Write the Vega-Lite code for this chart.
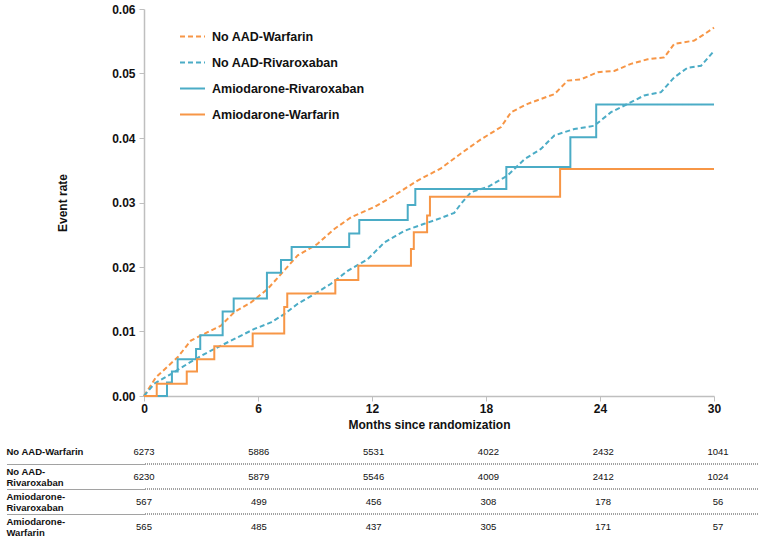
{
  "$schema": "https://vega.github.io/schema/vega-lite/v6.json",
  "background": "white",
  "padding": {"left": 5, "top": 3, "right": 5, "bottom": 2},
  "spacing": 4,
  "config": {
    "font": "Liberation Sans",
    "view": {"stroke": null},
    "axis": {"labelFont": "Liberation Sans", "titleFont": "Liberation Sans"}
  },
  "datasets": {
    "km": [
      {"group": "No AAD-Warfarin", "month": 0, "rate": 0},
      {"group": "No AAD-Warfarin", "month": 0.63, "rate": 0.0029},
      {"group": "No AAD-Warfarin", "month": 1.77, "rate": 0.006},
      {"group": "No AAD-Warfarin", "month": 2.47, "rate": 0.0086},
      {"group": "No AAD-Warfarin", "month": 3.35, "rate": 0.0099},
      {"group": "No AAD-Warfarin", "month": 4.05, "rate": 0.0109},
      {"group": "No AAD-Warfarin", "month": 4.75, "rate": 0.013},
      {"group": "No AAD-Warfarin", "month": 5.63, "rate": 0.0145},
      {"group": "No AAD-Warfarin", "month": 6.51, "rate": 0.0166},
      {"group": "No AAD-Warfarin", "month": 7.21, "rate": 0.0189},
      {"group": "No AAD-Warfarin", "month": 8.09, "rate": 0.0218},
      {"group": "No AAD-Warfarin", "month": 9.14, "rate": 0.0236},
      {"group": "No AAD-Warfarin", "month": 10.02, "rate": 0.0259},
      {"group": "No AAD-Warfarin", "month": 10.89, "rate": 0.0277},
      {"group": "No AAD-Warfarin", "month": 12.12, "rate": 0.0293},
      {"group": "No AAD-Warfarin", "month": 13.17, "rate": 0.0311},
      {"group": "No AAD-Warfarin", "month": 14.4, "rate": 0.0334},
      {"group": "No AAD-Warfarin", "month": 15.63, "rate": 0.0353},
      {"group": "No AAD-Warfarin", "month": 16.68, "rate": 0.0376},
      {"group": "No AAD-Warfarin", "month": 17.74, "rate": 0.0398},
      {"group": "No AAD-Warfarin", "month": 18.79, "rate": 0.0417},
      {"group": "No AAD-Warfarin", "month": 19.32, "rate": 0.044},
      {"group": "No AAD-Warfarin", "month": 20.19, "rate": 0.0453},
      {"group": "No AAD-Warfarin", "month": 21.6, "rate": 0.0468},
      {"group": "No AAD-Warfarin", "month": 22.3, "rate": 0.0489},
      {"group": "No AAD-Warfarin", "month": 23.0, "rate": 0.0491},
      {"group": "No AAD-Warfarin", "month": 23.88, "rate": 0.0502},
      {"group": "No AAD-Warfarin", "month": 24.75, "rate": 0.0504},
      {"group": "No AAD-Warfarin", "month": 25.63, "rate": 0.0515},
      {"group": "No AAD-Warfarin", "month": 26.51, "rate": 0.0522},
      {"group": "No AAD-Warfarin", "month": 27.38, "rate": 0.0525},
      {"group": "No AAD-Warfarin", "month": 27.91, "rate": 0.0546},
      {"group": "No AAD-Warfarin", "month": 28.96, "rate": 0.0551},
      {"group": "No AAD-Warfarin", "month": 29.49, "rate": 0.0561},
      {"group": "No AAD-Warfarin", "month": 30, "rate": 0.0571},

      {"group": "No AAD-Rivaroxaban", "month": 0, "rate": 0},
      {"group": "No AAD-Rivaroxaban", "month": 0.54, "rate": 0.0019},
      {"group": "No AAD-Rivaroxaban", "month": 1.42, "rate": 0.0034},
      {"group": "No AAD-Rivaroxaban", "month": 2.3, "rate": 0.005},
      {"group": "No AAD-Rivaroxaban", "month": 3.18, "rate": 0.0065},
      {"group": "No AAD-Rivaroxaban", "month": 4.05, "rate": 0.0078},
      {"group": "No AAD-Rivaroxaban", "month": 4.93, "rate": 0.0091},
      {"group": "No AAD-Rivaroxaban", "month": 5.81, "rate": 0.0104},
      {"group": "No AAD-Rivaroxaban", "month": 6.68, "rate": 0.0114},
      {"group": "No AAD-Rivaroxaban", "month": 7.38, "rate": 0.0127},
      {"group": "No AAD-Rivaroxaban", "month": 8.09, "rate": 0.0143},
      {"group": "No AAD-Rivaroxaban", "month": 8.96, "rate": 0.0158},
      {"group": "No AAD-Rivaroxaban", "month": 9.84, "rate": 0.0174},
      {"group": "No AAD-Rivaroxaban", "month": 10.72, "rate": 0.0194},
      {"group": "No AAD-Rivaroxaban", "month": 11.77, "rate": 0.0212},
      {"group": "No AAD-Rivaroxaban", "month": 12.65, "rate": 0.0238},
      {"group": "No AAD-Rivaroxaban", "month": 13.7, "rate": 0.0256},
      {"group": "No AAD-Rivaroxaban", "month": 14.75, "rate": 0.0267},
      {"group": "No AAD-Rivaroxaban", "month": 15.63, "rate": 0.0276},
      {"group": "No AAD-Rivaroxaban", "month": 16.33, "rate": 0.0284},
      {"group": "No AAD-Rivaroxaban", "month": 16.68, "rate": 0.0298},
      {"group": "No AAD-Rivaroxaban", "month": 17.21, "rate": 0.0316},
      {"group": "No AAD-Rivaroxaban", "month": 18.09, "rate": 0.0324},
      {"group": "No AAD-Rivaroxaban", "month": 19.14, "rate": 0.0342},
      {"group": "No AAD-Rivaroxaban", "month": 20.02, "rate": 0.0367},
      {"group": "No AAD-Rivaroxaban", "month": 20.89, "rate": 0.0383},
      {"group": "No AAD-Rivaroxaban", "month": 21.6, "rate": 0.0404},
      {"group": "No AAD-Rivaroxaban", "month": 22.65, "rate": 0.0414},
      {"group": "No AAD-Rivaroxaban", "month": 23.7, "rate": 0.0419},
      {"group": "No AAD-Rivaroxaban", "month": 24.58, "rate": 0.044},
      {"group": "No AAD-Rivaroxaban", "month": 25.46, "rate": 0.0453},
      {"group": "No AAD-Rivaroxaban", "month": 26.33, "rate": 0.0466},
      {"group": "No AAD-Rivaroxaban", "month": 27.21, "rate": 0.0471},
      {"group": "No AAD-Rivaroxaban", "month": 27.91, "rate": 0.0494},
      {"group": "No AAD-Rivaroxaban", "month": 28.61, "rate": 0.0509},
      {"group": "No AAD-Rivaroxaban", "month": 29.32, "rate": 0.0512},
      {"group": "No AAD-Rivaroxaban", "month": 30, "rate": 0.0535},

      {"group": "Amiodarone-Rivaroxaban", "month": 0, "rate": 0},
      {"group": "Amiodarone-Rivaroxaban", "month": 1.21, "rate": 0.0021},
      {"group": "Amiodarone-Rivaroxaban", "month": 1.47, "rate": 0.0038},
      {"group": "Amiodarone-Rivaroxaban", "month": 1.77, "rate": 0.0057},
      {"group": "Amiodarone-Rivaroxaban", "month": 2.74, "rate": 0.0073},
      {"group": "Amiodarone-Rivaroxaban", "month": 2.96, "rate": 0.0094},
      {"group": "Amiodarone-Rivaroxaban", "month": 4.14, "rate": 0.0131},
      {"group": "Amiodarone-Rivaroxaban", "month": 4.72, "rate": 0.0151},
      {"group": "Amiodarone-Rivaroxaban", "month": 6.47, "rate": 0.0191},
      {"group": "Amiodarone-Rivaroxaban", "month": 7.21, "rate": 0.0211},
      {"group": "Amiodarone-Rivaroxaban", "month": 7.77, "rate": 0.0231},
      {"group": "Amiodarone-Rivaroxaban", "month": 10.8, "rate": 0.0252},
      {"group": "Amiodarone-Rivaroxaban", "month": 11.33, "rate": 0.0273},
      {"group": "Amiodarone-Rivaroxaban", "month": 13.88, "rate": 0.0296},
      {"group": "Amiodarone-Rivaroxaban", "month": 14.28, "rate": 0.0321},
      {"group": "Amiodarone-Rivaroxaban", "month": 19.07, "rate": 0.0355},
      {"group": "Amiodarone-Rivaroxaban", "month": 22.44, "rate": 0.0401},
      {"group": "Amiodarone-Rivaroxaban", "month": 23.8, "rate": 0.0452},
      {"group": "Amiodarone-Rivaroxaban", "month": 30, "rate": 0.0452},

      {"group": "Amiodarone-Warfarin", "month": 0, "rate": 0},
      {"group": "Amiodarone-Warfarin", "month": 0.67, "rate": 0.0019},
      {"group": "Amiodarone-Warfarin", "month": 2.25, "rate": 0.0038},
      {"group": "Amiodarone-Warfarin", "month": 2.79, "rate": 0.0057},
      {"group": "Amiodarone-Warfarin", "month": 3.7, "rate": 0.0077},
      {"group": "Amiodarone-Warfarin", "month": 5.72, "rate": 0.0097},
      {"group": "Amiodarone-Warfarin", "month": 7.38, "rate": 0.0138},
      {"group": "Amiodarone-Warfarin", "month": 7.54, "rate": 0.0159},
      {"group": "Amiodarone-Warfarin", "month": 10.07, "rate": 0.018},
      {"group": "Amiodarone-Warfarin", "month": 11.28, "rate": 0.0202},
      {"group": "Amiodarone-Warfarin", "month": 14.05, "rate": 0.0228},
      {"group": "Amiodarone-Warfarin", "month": 14.2, "rate": 0.0254},
      {"group": "Amiodarone-Warfarin", "month": 14.9, "rate": 0.028},
      {"group": "Amiodarone-Warfarin", "month": 15.05, "rate": 0.0309},
      {"group": "Amiodarone-Warfarin", "month": 21.9, "rate": 0.0352},
      {"group": "Amiodarone-Warfarin", "month": 30, "rate": 0.0352}
    ],
    "risk": [
      {"group": "No AAD-Warfarin", "month": 0, "n": 6273},
      {"group": "No AAD-Warfarin", "month": 6, "n": 5886},
      {"group": "No AAD-Warfarin", "month": 12, "n": 5531},
      {"group": "No AAD-Warfarin", "month": 18, "n": 4022},
      {"group": "No AAD-Warfarin", "month": 24, "n": 2432},
      {"group": "No AAD-Warfarin", "month": 30, "n": 1041},
      {"group": "No AAD-Rivaroxaban", "month": 0, "n": 6230},
      {"group": "No AAD-Rivaroxaban", "month": 6, "n": 5879},
      {"group": "No AAD-Rivaroxaban", "month": 12, "n": 5546},
      {"group": "No AAD-Rivaroxaban", "month": 18, "n": 4009},
      {"group": "No AAD-Rivaroxaban", "month": 24, "n": 2412},
      {"group": "No AAD-Rivaroxaban", "month": 30, "n": 1024},
      {"group": "Amiodarone-Rivaroxaban", "month": 0, "n": 567},
      {"group": "Amiodarone-Rivaroxaban", "month": 6, "n": 499},
      {"group": "Amiodarone-Rivaroxaban", "month": 12, "n": 456},
      {"group": "Amiodarone-Rivaroxaban", "month": 18, "n": 308},
      {"group": "Amiodarone-Rivaroxaban", "month": 24, "n": 178},
      {"group": "Amiodarone-Rivaroxaban", "month": 30, "n": 56},
      {"group": "Amiodarone-Warfarin", "month": 0, "n": 565},
      {"group": "Amiodarone-Warfarin", "month": 6, "n": 485},
      {"group": "Amiodarone-Warfarin", "month": 12, "n": 437},
      {"group": "Amiodarone-Warfarin", "month": 18, "n": 305},
      {"group": "Amiodarone-Warfarin", "month": 24, "n": 171},
      {"group": "Amiodarone-Warfarin", "month": 30, "n": 57}
    ]
  },
  "vconcat": [
    {
      "width": 570,
      "height": 387,
      "data": {"name": "km"},
      "encoding": {
        "x": {
          "field": "month", "type": "quantitative",
          "scale": {"domain": [0, 30], "nice": false},
          "title": "Months since randomization",
          "axis": {
            "values": [0, 6, 12, 18, 24, 30], "grid": false, "labelFlush": false,
            "labelFontSize": 12, "labelFontWeight": "bold", "labelColor": "#111",
            "tickSize": 5, "tickColor": "#BFBFBF", "domainColor": "#BFBFBF", "domainWidth": 1.5,
            "labelPadding": 2, "titleFontSize": 12, "titleFontWeight": "bold", "titleColor": "#111", "titlePadding": 5
          }
        },
        "y": {
          "field": "rate", "type": "quantitative",
          "scale": {"domain": [0, 0.06], "nice": false},
          "title": "Event rate",
          "axis": {
            "values": [0, 0.01, 0.02, 0.03, 0.04, 0.05, 0.06], "format": ".2f", "grid": false,
            "labelFontSize": 12, "labelFontWeight": "bold", "labelColor": "#111",
            "tickSize": 5, "tickColor": "#BFBFBF", "domainColor": "#BFBFBF", "domainWidth": 1.5,
            "labelPadding": 4, "titleFontSize": 12, "titleFontWeight": "bold", "titleColor": "#111", "titlePadding": 42
          }
        },
        "color": {
          "field": "group", "type": "nominal",
          "scale": {
            "domain": ["No AAD-Warfarin", "No AAD-Rivaroxaban", "Amiodarone-Rivaroxaban", "Amiodarone-Warfarin"],
            "range": ["#F79646", "#4BACC6", "#4BACC6", "#F79646"]
          },
          "legend": {
            "title": null, "orient": "none", "legendX": 35, "legendY": 14, "padding": 0,
            "symbolType": "stroke", "symbolSize": 625, "symbolStrokeWidth": 2,
            "labelFontSize": 12.5, "labelFontWeight": "bold", "labelColor": "#111", "labelOffset": 6, "rowPadding": 6
          }
        },
        "strokeDash": {
          "field": "group", "type": "nominal",
          "scale": {
            "domain": ["No AAD-Warfarin", "No AAD-Rivaroxaban", "Amiodarone-Rivaroxaban", "Amiodarone-Warfarin"],
            "range": [[5, 3], [5, 3], [1, 0], [1, 0]]
          },
          "legend": {
            "title": null, "orient": "none", "legendX": 35, "legendY": 14, "padding": 0,
            "symbolType": "stroke", "symbolSize": 625, "symbolStrokeWidth": 2,
            "labelFontSize": 12.5, "labelFontWeight": "bold", "labelColor": "#111", "labelOffset": 6, "rowPadding": 6
          }
        }
      },
      "layer": [
        {
          "transform": [{"filter": {"field": "group", "oneOf": ["No AAD-Warfarin", "No AAD-Rivaroxaban"]}}],
          "mark": {"type": "line", "strokeWidth": 2, "interpolate": "linear"}
        },
        {
          "transform": [{"filter": {"field": "group", "oneOf": ["Amiodarone-Rivaroxaban", "Amiodarone-Warfarin"]}}],
          "mark": {"type": "line", "strokeWidth": 2, "interpolate": "step-after"}
        }
      ]
    },
    {
      "width": 614,
      "height": 100,
      "data": {"name": "risk"},
      "encoding": {
        "y": {
          "field": "group", "type": "nominal",
          "scale": {"type": "band", "domain": ["No AAD-Warfarin", "No AAD-Rivaroxaban", "Amiodarone-Rivaroxaban", "Amiodarone-Warfarin"], "paddingInner": 0, "paddingOuter": 0},
          "title": null,
          "axis": {
            "domain": false, "tickBand": "extent", "tickSize": 138, "tickDash": [1, 1], "tickWidth": 1,
            "tickColor": {"condition": {"test": "datum.index < 0 || datum.index == 1", "value": "rgba(255,255,255,0)"}, "value": "#444"},
            "grid": false,
            "labelAlign": "left", "labelPadding": 0, "labelBaseline": "middle",
            "labelOffset": {"condition": {"test": "datum.value == 'No AAD-Warfarin'", "value": 0}, "value": -5.5},
            "labelFontSize": 9.5, "labelFontWeight": "bold", "labelColor": "#111", "labelLineHeight": 11.5, "labelLimit": 0,
            "labelExpr": "!datum.value ? '' : datum.value == 'No AAD-Warfarin' ? datum.value : split(replace(datum.value, '-', '-|'), '|')"
          }
        }
      },
      "layer": [
        {
          "mark": {"type": "text", "fontSize": 9.5, "color": "#111", "font": "Liberation Sans"},
          "encoding": {
            "x": {"field": "month", "type": "quantitative", "scale": {"domain": [0, 32.09], "nice": false}, "axis": null},
            "text": {"field": "n", "type": "quantitative", "format": "d"}
          }
        },
        {
          "transform": [
            {"filter": {"field": "month", "equal": 0}},
            {"filter": {"not": {"field": "group", "equal": "Amiodarone-Warfarin"}}}
          ],
          "mark": {"type": "rule", "strokeDash": [1, 1], "color": "#444", "strokeWidth": 1, "yOffset": 12.5},
          "encoding": {}
        }
      ]
    }
  ]
}
